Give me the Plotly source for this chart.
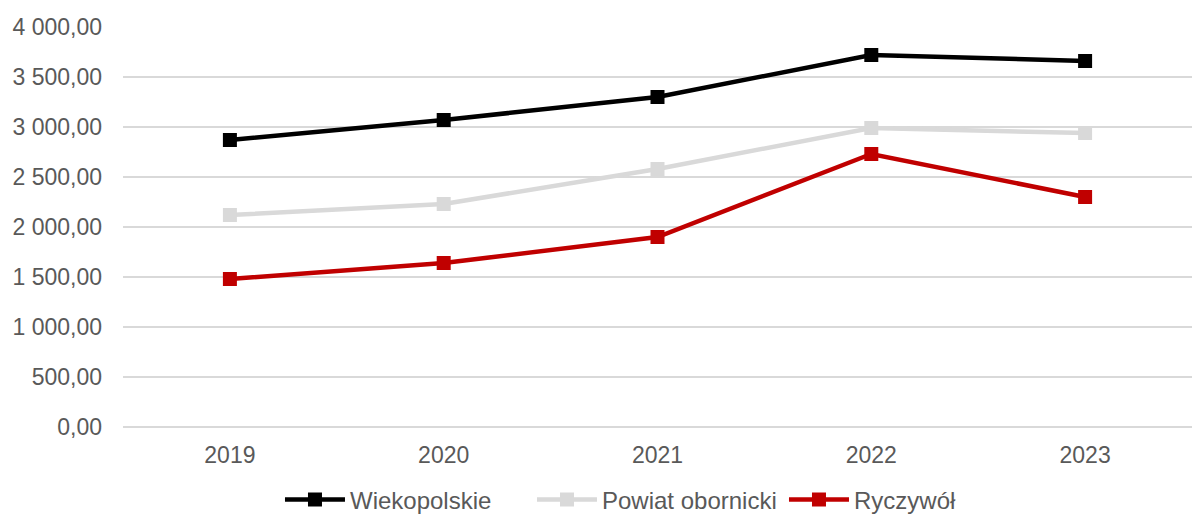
import plotly.graph_objects as go

years = ["2019", "2020", "2021", "2022", "2023"]
wielkopolskie = [2870, 3070, 3300, 3720, 3660]
powiat = [2120, 2230, 2580, 2990, 2940]
ryczywol = [1480, 1640, 1900, 2730, 2300]
series_names = ["Wiekopolskie", "Powiat obornicki", "Ryczywół"]
colors = ["#000000", "#D9D9D9", "#C00000"]
tick_vals = [0, 500, 1000, 1500, 2000, 2500, 3000, 3500, 4000]

fig = go.Figure()
for name, vals, col in zip(series_names, [wielkopolskie, powiat, ryczywol], colors):
    fig.add_trace(go.Scatter(
        x=years, y=vals, name=name, mode="lines+markers",
        line=dict(color=col, width=4.5),
        marker=dict(symbol="square", size=14, color=col),
    ))

fig.update_layout(
    width=1192, height=517,
    margin=dict(l=123, r=0, t=27, b=90),
    plot_bgcolor="white", paper_bgcolor="white",
    separators=", ",
    font=dict(family="Liberation Sans, Arial, sans-serif", size=23, color="#595959"),
    xaxis=dict(type="category", range=[-0.5, 4.5], showgrid=False, showline=False, ticks="",
               tickfont=dict(size=23, color="#595959"), ticklabelstandoff=12),
    yaxis=dict(range=[0, 4000], tickvals=tick_vals, tickformat=",.2f",
               showgrid=True, gridcolor="#D9D9D9", gridwidth=1.5,
               zeroline=True, zerolinecolor="#D9D9D9", zerolinewidth=1.5,
               tickfont=dict(size=23, color="#595959"), ticklabelstandoff=20),
    legend=dict(orientation="h", xref="container", yref="container",
                x=0.552, xanchor="center", y=(517 - 500) / 517, yanchor="middle",
                font=dict(size=24, color="#595959"), itemwidth=60,
                entrywidth=177, entrywidthmode="pixels",
                traceorder="normal"),
    showlegend=True,
)

fig.write_html("out.html", config={"displayModeBar": False},
               post_script="document.body.style.margin='0';document.body.style.padding='0';")
